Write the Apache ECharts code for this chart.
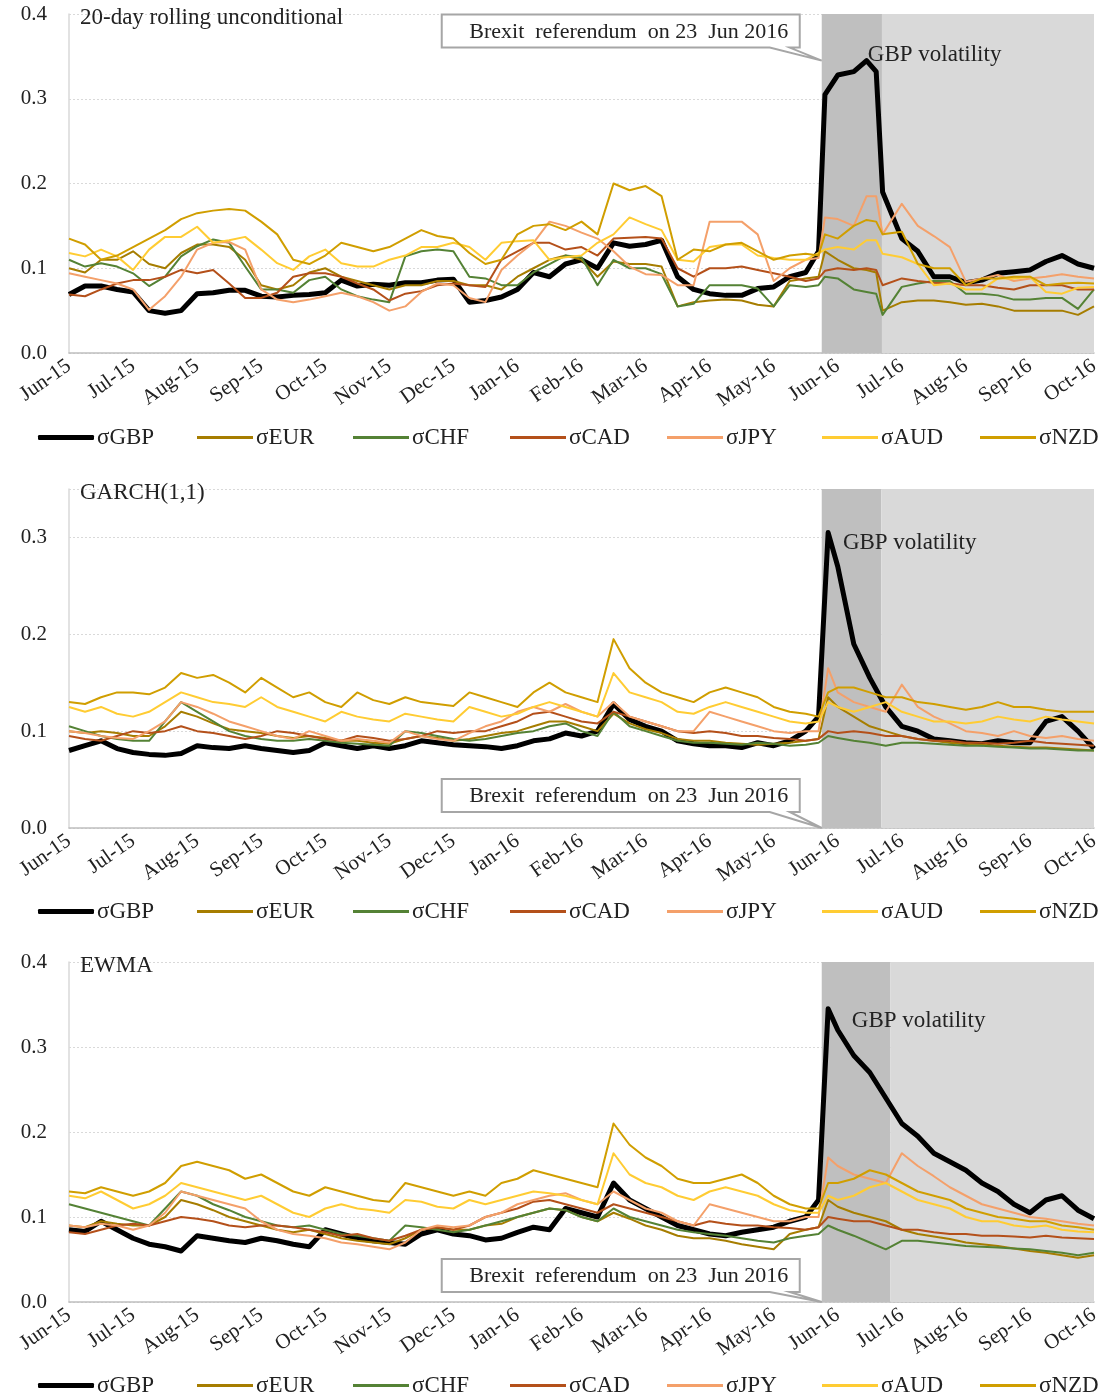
<!DOCTYPE html>
<html>
<head>
<meta charset="utf-8">
<script src="https://cdn.jsdelivr.net/npm/echarts@6/dist/echarts.min.js"></script>
<style>
  html, body { margin: 0; padding: 0; background: #ffffff; }
  #chart { width: 1104px; height: 1397px; }
</style>
</head>
<body>
<div id="chart"></div>
<script>
// Month tick labels (x axis runs in months since Jun-15)
const monthLabels = ['Jun-15','Jul-15','Aug-15','Sep-15','Oct-15','Nov-15','Dec-15','Jan-16',
  'Feb-16','Mar-16','Apr-16','May-16','Jun-16','Jul-16','Aug-16','Sep-16','Oct-16'];

const seriesNames = ['σGBP','σEUR','σCHF','σCAD','σJPY','σAUD','σNZD'];

// Sample dates (months since Jun-15) for the rolling panel
const monthsRolling = [0,0.25,0.5,0.75,1,1.25,1.5,1.75,2,2.25,2.5,2.75,3,3.25,3.5,3.75,4,4.25,4.5,4.75,
  5,5.25,5.5,5.75,6,6.25,6.5,6.75,7,7.25,7.5,7.75,8,8.25,8.5,8.75,9,9.25,9.5,9.75,
  10,10.25,10.5,10.75,11,11.25,11.5,11.7,11.8,12,12.25,12.45,12.6,12.7,
  13,13.25,13.5,13.75,14,14.25,14.5,14.75,15,15.25,15.5,15.75,16];

// Sample dates for the GARCH and EWMA panels
const monthsModel = [0,0.25,0.5,0.75,1,1.25,1.5,1.75,2,2.25,2.5,2.75,3,3.25,3.5,3.75,4,4.25,4.5,4.75,
  5,5.25,5.5,5.75,6,6.25,6.5,6.75,7,7.25,7.5,7.75,8,8.25,8.5,8.75,9,9.25,9.5,9.75,
  10,10.25,10.5,10.75,11,11.25,11.5,11.7,11.85,12,12.25,12.5,12.75,
  13,13.25,13.5,13.75,14,14.25,14.5,14.75,15,15.25,15.5,15.75,16];

// ---- 20-day rolling unconditional volatility ----
const gbpRolling = [0.069,0.079,0.079,0.075,0.072,0.050,0.047,0.050,0.070,0.071,
  0.074,0.074,0.067,0.066,0.068,0.069,0.071,0.086,0.079,0.081,
  0.080,0.083,0.083,0.086,0.087,0.060,0.062,0.066,0.075,0.095,
  0.090,0.105,0.110,0.100,0.130,0.126,0.128,0.133,0.090,0.075,
  0.070,0.068,0.068,0.076,0.078,0.090,0.095,0.120,0.305,0.328,
  0.332,0.345,0.332,0.190,0.135,0.120,0.090,0.090,0.083,0.086,
  0.094,0.096,0.098,0.108,0.115,0.105,0.100];
const eurRolling = [0.100,0.095,0.110,0.110,0.120,0.105,0.100,0.118,0.128,0.128,
  0.125,0.110,0.080,0.075,0.080,0.095,0.100,0.090,0.085,0.080,
  0.075,0.080,0.080,0.085,0.085,0.080,0.080,0.075,0.090,0.100,
  0.110,0.115,0.110,0.090,0.108,0.105,0.105,0.102,0.055,0.060,
  0.062,0.063,0.062,0.057,0.055,0.085,0.088,0.090,0.120,0.110,
  0.100,0.098,0.095,0.050,0.060,0.062,0.062,0.060,0.057,0.058,
  0.055,0.050,0.050,0.050,0.050,0.045,0.055];
const chfRolling = [0.110,0.102,0.106,0.102,0.094,0.079,0.090,0.114,0.126,0.134,
  0.130,0.102,0.075,0.075,0.071,0.086,0.090,0.075,0.067,0.063,
  0.060,0.114,0.120,0.122,0.120,0.090,0.088,0.080,0.080,0.095,
  0.105,0.115,0.113,0.080,0.110,0.100,0.100,0.093,0.055,0.058,
  0.080,0.080,0.080,0.076,0.055,0.080,0.078,0.080,0.090,0.088,
  0.075,0.072,0.070,0.045,0.078,0.082,0.085,0.085,0.070,0.070,
  0.068,0.063,0.063,0.065,0.065,0.052,0.075];
const cadRolling = [0.069,0.067,0.075,0.082,0.086,0.086,0.090,0.098,0.094,0.098,
  0.082,0.065,0.065,0.071,0.090,0.094,0.094,0.090,0.082,0.075,
  0.062,0.070,0.073,0.080,0.082,0.080,0.078,0.110,0.120,0.130,
  0.130,0.122,0.125,0.115,0.135,0.136,0.137,0.135,0.100,0.090,
  0.100,0.100,0.102,0.098,0.094,0.090,0.085,0.088,0.097,0.100,
  0.098,0.100,0.098,0.080,0.088,0.085,0.083,0.082,0.080,0.080,
  0.077,0.075,0.080,0.080,0.080,0.075,0.075];
const jpyRolling = [0.094,0.090,0.086,0.082,0.075,0.051,0.067,0.090,0.122,0.130,
  0.131,0.122,0.075,0.063,0.060,0.063,0.067,0.071,0.067,0.060,
  0.050,0.055,0.072,0.082,0.080,0.065,0.060,0.098,0.115,0.130,
  0.155,0.150,0.142,0.135,0.120,0.102,0.093,0.092,0.080,0.080,
  0.155,0.155,0.155,0.140,0.085,0.100,0.110,0.112,0.160,0.158,
  0.150,0.185,0.185,0.140,0.176,0.150,0.138,0.125,0.084,0.088,
  0.092,0.085,0.088,0.090,0.093,0.090,0.088];
const audRolling = [0.118,0.114,0.122,0.114,0.098,0.122,0.137,0.137,0.149,0.130,
  0.133,0.137,0.122,0.106,0.098,0.114,0.122,0.106,0.102,0.102,
  0.110,0.115,0.125,0.125,0.130,0.125,0.110,0.130,0.132,0.133,
  0.110,0.113,0.115,0.130,0.140,0.160,0.152,0.145,0.110,0.108,
  0.125,0.128,0.128,0.115,0.112,0.110,0.110,0.118,0.122,0.125,
  0.122,0.133,0.133,0.117,0.113,0.105,0.080,0.082,0.075,0.075,
  0.088,0.088,0.090,0.072,0.070,0.077,0.078];
const nzdRolling = [0.135,0.128,0.110,0.115,0.125,0.135,0.145,0.158,0.165,0.168,
  0.170,0.168,0.155,0.140,0.110,0.105,0.115,0.130,0.125,0.120,
  0.125,0.135,0.145,0.138,0.135,0.118,0.105,0.110,0.140,0.150,
  0.152,0.145,0.155,0.140,0.200,0.192,0.197,0.185,0.110,0.122,
  0.120,0.128,0.130,0.120,0.110,0.115,0.117,0.115,0.140,0.135,
  0.150,0.157,0.155,0.140,0.143,0.105,0.100,0.100,0.080,0.088,
  0.088,0.090,0.090,0.080,0.082,0.083,0.082];

// ---- GARCH(1,1) conditional volatility ----
const gbpGarch = [0.080,0.085,0.090,0.082,0.078,0.076,0.075,0.077,0.085,0.083,
  0.082,0.085,0.082,0.080,0.078,0.080,0.088,0.085,0.082,0.085,
  0.082,0.085,0.090,0.088,0.086,0.085,0.084,0.082,0.085,0.090,
  0.092,0.098,0.095,0.100,0.128,0.112,0.105,0.100,0.090,0.087,
  0.085,0.085,0.083,0.088,0.085,0.090,0.100,0.115,0.305,0.270,
  0.190,0.155,0.125,0.105,0.100,0.092,0.090,0.088,0.087,0.090,
  0.088,0.088,0.110,0.115,0.100,0.082];
const eurGarch = [0.100,0.098,0.100,0.098,0.095,0.095,0.105,0.120,0.115,0.108,
  0.102,0.100,0.098,0.095,0.093,0.095,0.093,0.090,0.090,0.088,
  0.087,0.092,0.095,0.093,0.090,0.092,0.095,0.098,0.100,0.105,
  0.110,0.110,0.105,0.100,0.118,0.108,0.102,0.098,0.092,0.090,
  0.090,0.088,0.087,0.086,0.087,0.088,0.090,0.092,0.135,0.125,
  0.115,0.105,0.100,0.095,0.092,0.090,0.088,0.087,0.086,0.085,
  0.084,0.083,0.083,0.082,0.081,0.080];
const chfGarch = [0.105,0.100,0.095,0.092,0.090,0.090,0.110,0.130,0.120,0.110,
  0.100,0.095,0.092,0.090,0.090,0.092,0.090,0.088,0.087,0.086,
  0.085,0.100,0.098,0.095,0.092,0.090,0.092,0.095,0.098,0.100,
  0.105,0.108,0.100,0.095,0.120,0.105,0.100,0.095,0.090,0.088,
  0.088,0.087,0.086,0.088,0.087,0.085,0.086,0.088,0.095,0.093,
  0.090,0.088,0.085,0.088,0.088,0.087,0.086,0.085,0.085,0.084,
  0.083,0.082,0.082,0.081,0.080,0.080];
const cadGarch = [0.095,0.092,0.090,0.095,0.100,0.098,0.100,0.105,0.100,0.098,
  0.095,0.092,0.095,0.100,0.098,0.095,0.092,0.090,0.095,0.093,
  0.090,0.092,0.095,0.100,0.098,0.100,0.100,0.105,0.110,0.118,
  0.120,0.115,0.110,0.108,0.120,0.115,0.110,0.105,0.100,0.098,
  0.100,0.098,0.095,0.095,0.093,0.092,0.090,0.092,0.100,0.098,
  0.100,0.098,0.095,0.095,0.092,0.090,0.090,0.088,0.088,0.087,
  0.088,0.090,0.088,0.087,0.086,0.085];
const jpyGarch = [0.100,0.098,0.095,0.093,0.092,0.100,0.110,0.130,0.125,0.118,
  0.110,0.105,0.100,0.095,0.092,0.100,0.095,0.090,0.092,0.090,
  0.088,0.100,0.095,0.092,0.090,0.098,0.105,0.110,0.120,0.125,
  0.120,0.128,0.120,0.115,0.130,0.115,0.110,0.105,0.100,0.100,
  0.120,0.115,0.110,0.105,0.100,0.098,0.100,0.100,0.165,0.140,
  0.130,0.125,0.120,0.148,0.125,0.115,0.108,0.100,0.098,0.095,
  0.100,0.095,0.093,0.095,0.092,0.090];
const audGarch = [0.125,0.120,0.125,0.118,0.115,0.120,0.130,0.140,0.135,0.130,
  0.128,0.125,0.135,0.125,0.120,0.115,0.110,0.120,0.115,0.112,
  0.110,0.118,0.115,0.112,0.110,0.125,0.120,0.115,0.118,0.125,
  0.130,0.125,0.120,0.115,0.160,0.140,0.135,0.130,0.120,0.118,
  0.125,0.130,0.125,0.120,0.115,0.110,0.108,0.110,0.130,0.125,
  0.120,0.125,0.130,0.120,0.115,0.110,0.110,0.108,0.110,0.115,
  0.112,0.110,0.115,0.112,0.110,0.108];
const nzdGarch = [0.130,0.128,0.135,0.140,0.140,0.138,0.145,0.160,0.155,0.158,
  0.150,0.140,0.155,0.145,0.135,0.140,0.130,0.125,0.140,0.132,
  0.128,0.135,0.130,0.128,0.126,0.140,0.135,0.130,0.125,0.140,
  0.150,0.140,0.135,0.130,0.195,0.165,0.150,0.140,0.135,0.130,
  0.140,0.145,0.140,0.135,0.125,0.120,0.118,0.115,0.140,0.145,
  0.145,0.140,0.135,0.135,0.130,0.128,0.125,0.122,0.125,0.130,
  0.125,0.125,0.122,0.120,0.120,0.120];

// ---- EWMA volatility ----
const gbpEwma = [0.085,0.083,0.095,0.085,0.075,0.068,0.065,0.060,0.078,0.075,
  0.072,0.070,0.075,0.072,0.068,0.065,0.085,0.080,0.075,0.072,
  0.070,0.068,0.080,0.085,0.080,0.078,0.073,0.075,0.082,0.088,
  0.085,0.110,0.105,0.100,0.140,0.120,0.110,0.100,0.090,0.085,
  0.080,0.078,0.082,0.085,0.088,0.095,0.100,0.120,0.345,0.320,
  0.290,0.270,0.240,0.210,0.195,0.175,0.165,0.155,0.140,0.130,
  0.115,0.105,0.120,0.125,0.108,0.098];
const eurEwma = [0.090,0.088,0.095,0.092,0.090,0.090,0.100,0.120,0.115,0.108,
  0.100,0.095,0.090,0.085,0.082,0.085,0.080,0.075,0.072,0.070,
  0.068,0.075,0.085,0.088,0.085,0.085,0.090,0.092,0.100,0.105,
  0.110,0.108,0.100,0.095,0.105,0.098,0.090,0.085,0.078,0.075,
  0.075,0.072,0.068,0.065,0.062,0.080,0.085,0.088,0.120,0.112,
  0.105,0.100,0.095,0.085,0.080,0.077,0.074,0.070,0.068,0.066,
  0.063,0.060,0.058,0.055,0.052,0.055];
const chfEwma = [0.115,0.110,0.105,0.100,0.095,0.090,0.110,0.130,0.125,0.115,
  0.108,0.100,0.095,0.090,0.088,0.090,0.085,0.080,0.078,0.075,
  0.072,0.090,0.088,0.085,0.082,0.085,0.090,0.095,0.100,0.105,
  0.110,0.108,0.100,0.095,0.110,0.100,0.095,0.090,0.085,0.082,
  0.080,0.078,0.075,0.072,0.070,0.075,0.078,0.080,0.090,0.085,
  0.078,0.070,0.062,0.072,0.072,0.070,0.068,0.066,0.065,0.064,
  0.063,0.062,0.060,0.058,0.055,0.058];
const cadEwma = [0.082,0.080,0.085,0.090,0.092,0.090,0.095,0.100,0.098,0.095,
  0.090,0.088,0.090,0.090,0.088,0.085,0.082,0.078,0.080,0.075,
  0.072,0.078,0.085,0.088,0.085,0.090,0.100,0.105,0.110,0.118,
  0.120,0.115,0.110,0.105,0.115,0.110,0.105,0.100,0.095,0.090,
  0.095,0.092,0.090,0.090,0.088,0.087,0.085,0.088,0.100,0.098,
  0.095,0.095,0.090,0.085,0.085,0.082,0.080,0.080,0.078,0.078,
  0.077,0.076,0.078,0.076,0.075,0.074];
const jpyEwma = [0.090,0.088,0.092,0.090,0.085,0.090,0.105,0.130,0.125,0.120,
  0.115,0.110,0.095,0.085,0.080,0.078,0.075,0.070,0.068,0.065,
  0.062,0.070,0.085,0.090,0.088,0.090,0.100,0.105,0.115,0.120,
  0.125,0.128,0.120,0.115,0.130,0.120,0.110,0.105,0.095,0.090,
  0.115,0.110,0.105,0.100,0.095,0.095,0.100,0.100,0.170,0.160,
  0.150,0.145,0.140,0.175,0.160,0.148,0.135,0.125,0.115,0.110,
  0.105,0.100,0.098,0.095,0.092,0.090];
const audEwma = [0.125,0.122,0.130,0.120,0.110,0.115,0.125,0.140,0.135,0.130,
  0.125,0.120,0.125,0.115,0.105,0.100,0.110,0.115,0.110,0.108,
  0.105,0.120,0.118,0.112,0.110,0.120,0.115,0.120,0.125,0.130,
  0.128,0.125,0.120,0.115,0.175,0.150,0.140,0.135,0.125,0.120,
  0.130,0.135,0.130,0.125,0.115,0.108,0.105,0.105,0.125,0.120,
  0.125,0.135,0.140,0.130,0.120,0.115,0.110,0.100,0.095,0.095,
  0.090,0.088,0.090,0.085,0.083,0.082];
const nzdEwma = [0.130,0.128,0.135,0.130,0.125,0.130,0.140,0.160,0.165,0.160,
  0.155,0.145,0.150,0.140,0.130,0.125,0.135,0.130,0.125,0.120,
  0.118,0.140,0.135,0.130,0.125,0.130,0.125,0.140,0.145,0.155,
  0.150,0.145,0.140,0.135,0.210,0.185,0.170,0.160,0.145,0.140,
  0.140,0.145,0.150,0.140,0.125,0.115,0.110,0.110,0.140,0.140,
  0.145,0.155,0.150,0.140,0.130,0.125,0.120,0.110,0.105,0.100,
  0.098,0.095,0.095,0.090,0.088,0.085];

// Referendum marker and shaded windows (months since Jun-15)
const brexitMonth = 11.75;
const axisEndMonth = 16;

// ---- styling ----
const serif = 'Liberation Serif';
const textColor = '#222222';
const seriesColors = ['#000000', '#A67D00', '#548235', '#B4501A', '#F4A06A', '#FFCC33', '#D09E00'];
const seriesWidths = [5, 2, 2, 2, 2, 2, 2];
const legendLefts = [38, 197, 353, 510, 667, 822, 980];

const panels = [
  { title: '20-day rolling unconditional', months: monthsRolling,
    values: [gbpRolling, eurRolling, chfRolling, cadRolling, jpyRolling, audRolling, nzdRolling],
    top: 14, height: 339, yMax: 0.4, darkEnd: 12.69, legendTop: 426,
    tipValue: 0.345, boxGap: 13, noteAt: [12.47, 0.352] },
  { title: 'GARCH(1,1)', months: monthsModel,
    values: [gbpGarch, eurGarch, chfGarch, cadGarch, jpyGarch, audGarch, nzdGarch],
    top: 489, height: 339, yMax: 0.35, darkEnd: 12.68, legendTop: 900,
    tipValue: 0, boxGap: 16, noteAt: [12.08, 0.294] },
  { title: 'EWMA', months: monthsModel,
    values: [gbpEwma, eurEwma, chfEwma, cadEwma, jpyEwma, audEwma, nzdEwma],
    top: 962, height: 340, yMax: 0.4, darkEnd: 12.82, legendTop: 1374,
    tipValue: 0, boxGap: 10, noteAt: [12.22, 0.331] }
];

const grids = [], xAxes = [], yAxes = [], series = [], legends = [];

panels.forEach((p, i) => {
  grids.push({ left: 69, right: 10, top: p.top, height: p.height, containLabel: false });

  xAxes.push({
    type: 'value', gridIndex: i, min: 0, max: axisEndMonth, interval: 1,
    axisLine: { show: true, lineStyle: { color: '#BFBFBF', width: 1.5 } },
    axisTick: { show: false },
    splitLine: { show: false },
    axisLabel: {
      rotate: 35, margin: 11,
      fontFamily: serif, fontSize: 21, color: textColor,
      formatter: v => monthLabels[Math.round(v)] || ''
    }
  });

  yAxes.push({
    type: 'value', gridIndex: i, min: 0, max: p.yMax, interval: 0.1,
    axisLine: { show: true, lineStyle: { color: '#D9D9D9', width: 1.5 } },
    axisTick: { show: false },
    splitLine: { show: true, lineStyle: { color: '#D9D9D9', type: [2, 2], width: 1 } },
    axisLabel: {
      margin: 22, fontFamily: serif, fontSize: 21, color: textColor,
      formatter: v => (v > 0.4001 || Math.abs(v * 10 - Math.round(v * 10)) > 1e-6) ? '' : v.toFixed(1)
    }
  });

  // shaded pre/post referendum windows
  series.push({
    type: 'line', name: 'shade' + i, xAxisIndex: i, yAxisIndex: i, data: [],
    silent: true, z: 1, animation: false,
    markArea: {
      silent: true,
      data: [
        [{ xAxis: brexitMonth, itemStyle: { color: '#BFBFBF' } }, { xAxis: p.darkEnd }],
        [{ xAxis: p.darkEnd, itemStyle: { color: '#D9D9D9' } }, { xAxis: axisEndMonth }]
      ]
    }
  });

  seriesNames.forEach((name, k) => {
    series.push({
      type: 'line', name: name, xAxisIndex: i, yAxisIndex: i,
      data: p.months.map((m, j) => [m, p.values[k][j]]),
      symbol: 'none', showSymbol: false, smooth: false,
      lineStyle: { color: seriesColors[k], width: seriesWidths[k], join: 'round' },
      itemStyle: { color: seriesColors[k] },
      z: 3 + k, animation: false
    });
  });

  seriesNames.forEach((name, k) => {
    legends.push({
      data: [{ name: name, icon: k === 0 ? 'roundRect' : 'rect' }],
      left: legendLefts[k], top: p.legendTop, padding: 0,
      itemWidth: 56, itemHeight: k === 0 ? 5 : 3, itemGap: 0, selectedMode: false,
      textStyle: { fontFamily: serif, fontSize: 23, color: textColor, padding: [0, 0, 0, -2] }
    });
  });
});

const chart = echarts.init(document.getElementById('chart'), null, { renderer: 'canvas' });
chart.setOption({
  backgroundColor: '#ffffff',
  animation: false,
  grid: grids, xAxis: xAxes, yAxis: yAxes, series: series, legend: legends
});

// annotations: panel titles, referendum callouts, GBP labels
const graphics = [];
panels.forEach((p, i) => {
  graphics.push({
    type: 'text', left: 80, top: p.top - 8, z: 20,
    style: { text: p.title, font: '23px "' + serif + '"', fill: textColor }
  });

  const tip = chart.convertToPixel({ xAxisIndex: i, yAxisIndex: i }, [brexitMonth, p.tipValue]);
  const R = tip[0] - 22, B = tip[1] - p.boxGap, L = R - 358, T = B - 33;
  graphics.push({
    type: 'polygon', z: 20,
    shape: { points: [[L, T], [R, T], [R, B], [R - 10, B], [tip[0], tip[1]], [R - 30, B], [L, B]] },
    style: { fill: '#ffffff', stroke: '#A6A6A6', lineWidth: 2 }
  });
  graphics.push({
    type: 'text', x: (L + R) / 2 + 8, y: (T + B) / 2 + 1, z: 21,
    style: { text: 'Brexit  referendum  on 23  Jun 2016', font: '22px "' + serif + '"',
      fill: textColor, textAlign: 'center', textVerticalAlign: 'middle' }
  });

  const note = chart.convertToPixel({ xAxisIndex: i, yAxisIndex: i }, p.noteAt);
  graphics.push({
    type: 'text', x: note[0], y: note[1], z: 21,
    style: { text: 'GBP volatility', font: '23px "' + serif + '"', fill: textColor,
      textAlign: 'left', textVerticalAlign: 'middle' }
  });
});
chart.setOption({ graphic: graphics });
</script>
</body>
</html>
